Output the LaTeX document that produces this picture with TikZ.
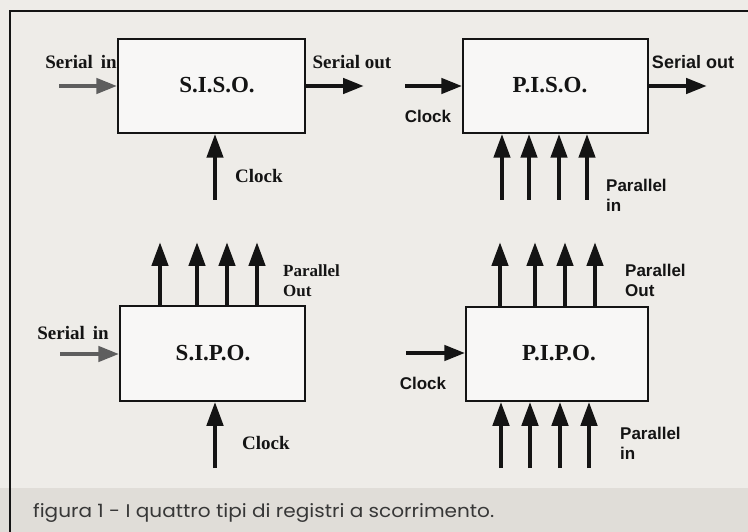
\documentclass[tikz,border=0pt]{standalone}
\usepackage{fontspec}
\setmainfont{Liberation Serif}
\newfontfamily\labsans{Liberation Sans}
\newfontfamily\capfont{Poppins}
\usetikzlibrary{arrows.meta}
\definecolor{paper}{HTML}{EEECE8}
\definecolor{band}{HTML}{E0DDD8}
\definecolor{ink}{HTML}{141414}
\definecolor{greyarr}{HTML}{5E5E5E}
\tikzset{
  regbox/.style={draw=ink, line width=1.5pt, inner sep=0pt, fill=white!60!paper},
  regname/.style={font=\bfseries\fontsize{23pt}{26pt}\selectfont, text=ink, inner sep=0pt},
  labserif/.style={font=\bfseries\fontsize{19pt}{22pt}\selectfont, text=ink, inner sep=0pt},
  labserifsm/.style={font=\bfseries\fontsize{17pt}{20pt}\selectfont, text=ink, inner sep=0pt, align=left},
  labsans/.style={font=\labsans\bfseries\fontsize{17pt}{20pt}\selectfont, text=ink, inner sep=0pt, align=left},
  sig/.style={draw=ink, line width=4.5pt, -{Triangle[length=24pt,width=16pt]}},
  sigh/.style={draw=ink, line width=4.5pt, -{Triangle[length=21pt,width=15pt]}},
}
\begin{document}
\begin{tikzpicture}[x=1pt,y=-1pt]
\useasboundingbox (0,0) rectangle (748,532);
\fill[paper] (0,0) rectangle (748,532);
\fill[band] (0,488) rectangle (748,532);
\draw[ink, line width=2pt] (748,11) -- (10,11) -- (10,532);

% boxes
\node[regbox, minimum width=187pt, minimum height=94pt] (siso) at (211.5,86) {};
\node[regbox, minimum width=185pt, minimum height=94pt] (piso) at (555.5,86) {};
\node[regbox, minimum width=185pt, minimum height=95pt] (sipo) at (212.5,353.5) {};
\node[regbox, minimum width=182pt, minimum height=94pt] (pipo) at (557,354) {};

\node[regname] (sisot) at (217,85) {S.I.S.O.};
\node[regname] (pisot) at (550,85) {P.I.S.O.};
\node[regname] (sipot) at (213,353) {S.I.P.O.};
\node[regname] (pipot) at (559,353) {P.I.P.O.};

% S.I.S.O.
\coordinate (si1) at (59,86);
\coordinate (so1) at (364,86);
\coordinate (ck1) at (215,200);
\draw[sigh, draw=greyarr] (si1) -- (siso.west |- si1);
\draw[sigh] (siso.east |- so1) -- (so1);
\draw[sig] (ck1) -- (ck1 |- siso.south);
\node[labserif] (lsi1) at (81,62) {Serial\, in};
\node[labserif] (lso1) at (352,62) {Serial out};
\node[labserif, anchor=west] (lck1) at (235,176) {Clock};

% P.I.S.O.
\coordinate (ck2) at (405,86);
\coordinate (so2) at (707,86);
\draw[sigh] (ck2) -- (piso.west |- ck2);
\draw[sigh] (piso.east |- so2) -- (so2);
\foreach \x [count=\i] in {502,529,559,587} {
  \coordinate (pi2\i) at (\x,200);
  \draw[sig] (pi2\i) -- (pi2\i |- piso.south);
}
\node[labsans, font=\labsans\bfseries\fontsize{18pt}{21pt}\selectfont] (lso2) at (693,62) {Serial out};
\node[labsans] (lck2) at (428,116) {Clock};
\node[labsans, anchor=west] (lpi2) at (606,195) {Parallel\\in};

% S.I.P.O.
\coordinate (si3) at (60,354);
\coordinate (ck3) at (215,468);
\draw[sigh, draw=greyarr] (si3) -- (sipo.west |- si3);
\draw[sig] (ck3) -- (ck3 |- sipo.south);
\foreach \x [count=\i] in {160,197,227,257} {
  \coordinate (po3\i) at (\x,242);
  \draw[sig] (po3\i |- sipo.north) -- (po3\i);
}
\node[labserif] (lsi3) at (73,333) {Serial\, in};
\node[labserif, anchor=west] (lck3) at (242,443) {Clock};
\node[labserifsm, anchor=west] (lpo3) at (283,281) {Parallel\\Out};

% P.I.P.O.
\coordinate (ck4) at (406,353);
\draw[sigh] (ck4) -- (pipo.west |- ck4);
\foreach \x [count=\i] in {500,535,565,595} {
  \coordinate (po4\i) at (\x,242);
  \draw[sig] (po4\i |- pipo.north) -- (po4\i);
}
\foreach \x [count=\i] in {501,530,560,589} {
  \coordinate (pi4\i) at (\x,468);
  \draw[sig] (pi4\i) -- (pi4\i |- pipo.south);
}
\node[labsans] (lck4) at (423,383) {Clock};
\node[labsans, anchor=west] (lpo4) at (625,280) {Parallel\\Out};
\node[labsans, anchor=west] (lpi4) at (620,443) {Parallel\\in};

% caption
\node[anchor=base west, inner sep=0pt, text=ink!85] (cap) at (33,517)
  {\resizebox{461pt}{14pt}{\capfont figura 1 - I quattro tipi di registri a scorrimento.}};
\end{tikzpicture}
\end{document}
